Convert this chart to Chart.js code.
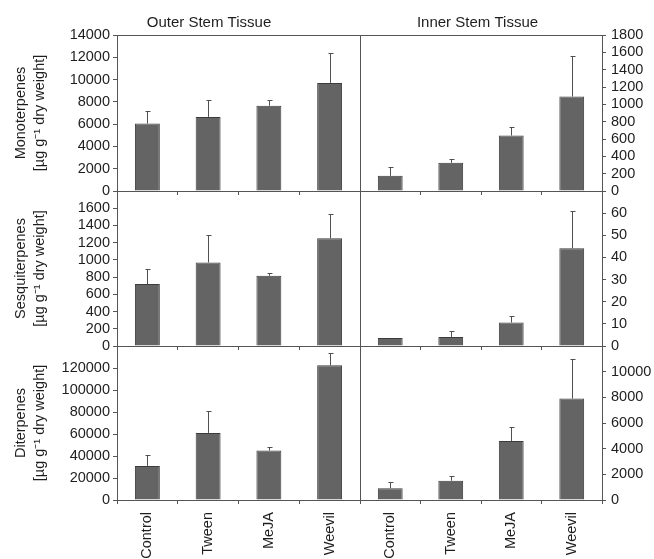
<!DOCTYPE html>
<html>
<head>
<meta charset="utf-8">
<script src="https://cdn.jsdelivr.net/npm/chart.js@4/dist/chart.umd.min.js"></script>
<style>
  body { margin: 0; background: #fff; }
  #wrap { position: relative; width: 654px; height: 559px; overflow: hidden; background: #fff; }
  #wrap canvas { position: absolute; }
</style>
</head>
<body>
<div id="wrap">
  <canvas id="mono-outer" width="418" height="205" style="left:0;top:0"></canvas>
  <canvas id="mono-inner" width="353" height="205" style="left:301px;top:0"></canvas>
  <canvas id="sesqui-outer" width="418" height="169" style="left:0;top:191px"></canvas>
  <canvas id="sesqui-inner" width="353" height="169" style="left:301px;top:191px"></canvas>
  <canvas id="di-outer" width="418" height="213" style="left:0;top:346px"></canvas>
  <canvas id="di-inner" width="353" height="213" style="left:301px;top:346px"></canvas>
</div>
<script>
// treatments on the x axis
var treatments = ['Control', 'Tween', 'MeJA', 'Weevil'];

// means and standard deviations, µg g-1 dry weight
var monoOuter = [6050, 6650, 7650, 9700];
var monoOuterSd = [1100, 1550, 500, 2700];
var monoInner = [175, 325, 640, 1090];
var monoInnerSd = [100, 50, 95, 465];

var sesquiOuter = [720, 970, 815, 1250];
var sesquiOuterSd = [170, 320, 30, 280];
var sesquiInner = [3.6, 4.1, 10.6, 44.1];
var sesquiInnerSd = [0, 2.6, 2.8, 17];

var diOuter = [31000, 61000, 45000, 122500];
var diOuterSd = [9500, 20000, 3200, 11500];
var diInner = [920, 1500, 4600, 7900];
var diInnerSd = [470, 340, 1120, 3060];

var textColor = '#1e1e1e';
var axisColor = '#555555';

Chart.defaults.font.family = "'Liberation Sans', Arial, sans-serif";
Chart.defaults.animation = false;

// error bars drawn on top of the bars, using the y scale of the chart
var errorBars = {
  id: 'errorBars',
  afterDatasetsDraw: function(chart) {
    var ctx = chart.ctx;
    var y = chart.scales.y;
    var ds = chart.data.datasets[0];
    var meta = chart.getDatasetMeta(0);
    ctx.save();
    ctx.strokeStyle = '#505050';
    ctx.lineWidth = 1;
    meta.data.forEach(function(bar, i) {
      if (!ds.errors[i]) return;
      var top = Math.round(y.getPixelForValue(ds.data[i] + ds.errors[i])) + 0.5;
      var x = Math.round(bar.x) + 0.5;
      ctx.beginPath();
      ctx.moveTo(x, bar.y);
      ctx.lineTo(x, top);
      ctx.moveTo(x - 2, top);
      ctx.lineTo(x + 3, top);
      ctx.stroke();
    });
    ctx.restore();
  }
};

function fixWidth(w) {
  return function(scale) { scale.width = w; scale.paddingTop = 0; scale.paddingBottom = 0; };
}
function fixHeight(h) {
  return function(scale) { scale.height = h; scale.paddingLeft = 0; scale.paddingRight = 0; };
}

function panel(id, side, values, errors, yMax, yStep, hideTop, colTitle, yTitle, bottomHeight) {
  var scales = {
    x: {
      type: 'category',
      position: 'bottom',
      offset: true,
      grid: { offset: true, drawOnChartArea: false, tickLength: 4, color: axisColor },
      border: { display: true, color: axisColor },
      ticks: {
        display: bottomHeight > 20,
        autoSkip: false,
        maxRotation: 90,
        minRotation: 90,
        padding: 8,
        color: textColor,
        font: { size: 14.5 }
      },
      afterFit: fixHeight(bottomHeight)
    },
    y: {
      position: side,
      min: 0,
      max: yMax,
      grid: { drawOnChartArea: false, tickLength: 4, color: axisColor },
      border: { color: axisColor },
      ticks: {
        stepSize: yStep,
        autoSkip: false,
        padding: side === 'left' ? 3 : 5,
        color: textColor,
        font: { size: 14.5 },
        callback: function(v) { return (hideTop && v === yMax) ? '' : String(v); }
      },
      title: {
        display: !!yTitle,
        text: yTitle,
        color: textColor,
        font: { size: 14.5, lineHeight: 1.3 },
        padding: { top: 12, bottom: 0 }
      },
      afterFit: fixWidth(side === 'left' ? 117 : 52)
    },
    // empty axis on the inner edge, draws the line between the two columns
    edge: {
      position: side === 'left' ? 'right' : 'left',
      grid: { drawOnChartArea: false, drawTicks: false },
      border: { display: side === 'right', color: axisColor },
      ticks: { display: false },
      afterFit: fixWidth(side === 'left' ? 58 : 59)
    }
  };
  if (colTitle) {
    scales.xt = {
      type: 'category',
      position: 'top',
      grid: { drawOnChartArea: false, drawTicks: false },
      border: { display: true, color: axisColor },
      ticks: { display: false },
      afterFit: fixHeight(0)
    };
  }

  return new Chart(document.getElementById(id).getContext('2d'), {
    type: 'bar',
    data: {
      labels: treatments,
      datasets: [{
        data: values,
        errors: errors,
        xAxisID: 'x',
        yAxisID: 'y',
        backgroundColor: '#646464',
        borderColor: '#3c3c3c',
        borderWidth: 1,
        barPercentage: 0.41,
        categoryPercentage: 1.0
      }]
    },
    options: {
      responsive: false,
      animation: false,
      layout: { padding: 0 },
      scales: scales,
      plugins: {
        legend: { display: false },
        tooltip: { enabled: false },
        title: {
          display: !!colTitle,
          text: colTitle,
          color: textColor,
          font: { size: 15, weight: 'normal', lineHeight: 1.2 },
          padding: { top: 14, bottom: 3 }
        }
      }
    },
    plugins: [errorBars]
  });
}

var unit = '[\u00b5g g\u207b\u00b9 dry weight]';

panel('mono-outer', 'left', monoOuter, monoOuterSd, 14000, 2000, false, 'Outer Stem Tissue', ['Monoterpenes', unit], 14);
panel('mono-inner', 'right', monoInner, monoInnerSd, 1800, 200, false, 'Inner Stem Tissue', null, 14);
panel('sesqui-outer', 'left', sesquiOuter, sesquiOuterSd, 1800, 200, true, null, ['Sesquiterpenes', unit], 14);
panel('sesqui-inner', 'right', sesquiInner, sesquiInnerSd, 70, 10, true, null, null, 14);
panel('di-outer', 'left', diOuter, diOuterSd, 140000, 20000, true, null, ['Diterpenes', unit], 59);
panel('di-inner', 'right', diInner, diInnerSd, 12000, 2000, true, null, null, 59);
</script>
</body>
</html>
